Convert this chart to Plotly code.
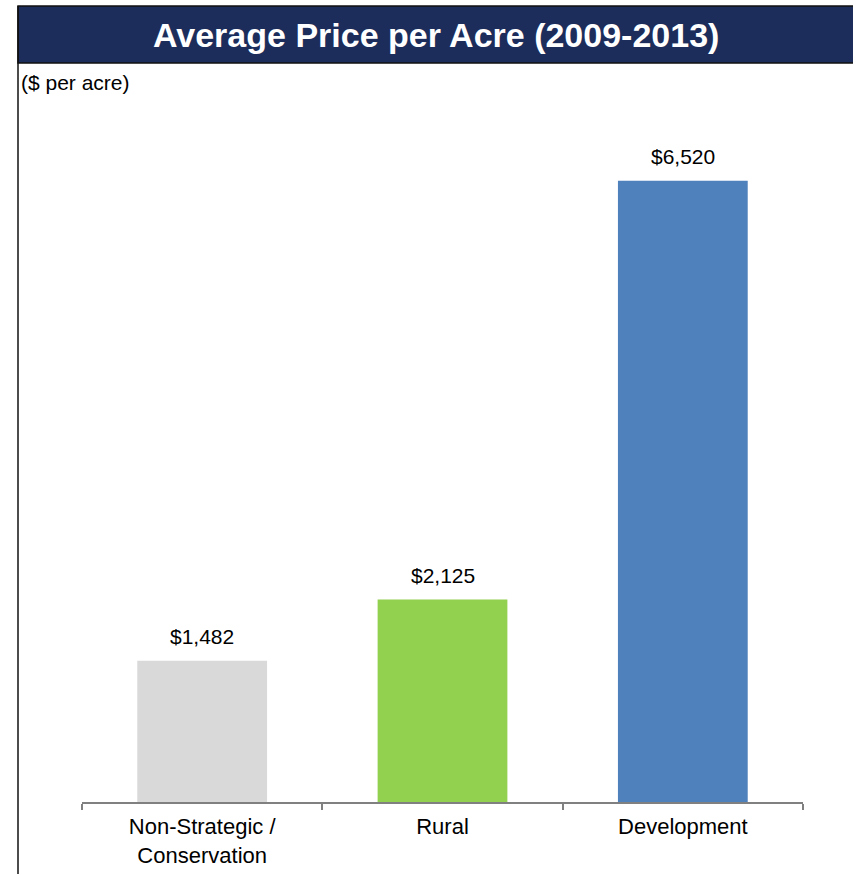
import plotly.graph_objects as go

categories = ["Non-Strategic /<br>Conservation", "Rural", "Development"]
values = [1482, 2125, 6520]
colors = ["#d9d9d9", "#92d050", "#4f81bd"]
title_text = "Average Price per Acre (2009-2013)"
unit_text = "($ per acre)"

W, H = 853, 874
FONT = "Liberation Sans, Arial, Helvetica, sans-serif"

def px_x(x):
    return x / W

def px_y(y):
    return 1 - y / H

fig = go.Figure()
fig.add_trace(go.Bar(
    x=categories, y=values, marker=dict(color=colors, line=dict(width=0)),
    width=0.54, hoverinfo="skip",
))

for c, v in zip(categories, values):
    fig.add_annotation(x=c, y=v, xref="x", yref="y", text=f"${v:,}",
                       showarrow=False, yanchor="bottom", yshift=11,
                       font=dict(size=21, color="#000000", family=FONT))

# title bar
fig.add_shape(type="rect", xref="paper", yref="paper",
              x0=px_x(18), x1=px_x(860), y0=px_y(63), y1=px_y(6),
              fillcolor="#1c2d5b", line=dict(color="#111111", width=1.5), layer="below")
# left border line
fig.add_shape(type="line", xref="paper", yref="paper",
              x0=px_x(18), x1=px_x(18), y0=0, y1=px_y(6),
              line=dict(color="#111111", width=1.5))

fig.add_annotation(xref="paper", yref="paper", x=px_x(436), y=px_y(35),
                   text=f"<b>{title_text}</b>", showarrow=False,
                   xanchor="center", yanchor="middle",
                   font=dict(size=34, color="#ffffff", family=FONT))
fig.add_annotation(xref="paper", yref="paper", x=px_x(19), y=px_y(82),
                   text=unit_text, showarrow=False, xanchor="left", yanchor="middle",
                   font=dict(size=21, color="#000000", family=FONT))

fig.update_layout(
    width=W, height=H,
    margin=dict(l=0, r=0, t=0, b=0),
    paper_bgcolor="#ffffff", plot_bgcolor="#ffffff",
    showlegend=False,
    font=dict(family=FONT, color="#000000"),
    xaxis=dict(domain=[px_x(82), px_x(803)], showgrid=False, zeroline=False,
               showline=True, linecolor="#808080", linewidth=2,
               ticks="outside", tickson="boundaries", ticklen=6, tickcolor="#808080",
               tickwidth=1.5, ticklabelstandoff=4,
               tickfont=dict(size=22, color="#000000"), fixedrange=True),
    yaxis=dict(domain=[px_y(802), px_y(135)], range=[0, 7000], visible=False,
               showgrid=False, zeroline=False, fixedrange=True),
)

fig.write_html("out.html")
